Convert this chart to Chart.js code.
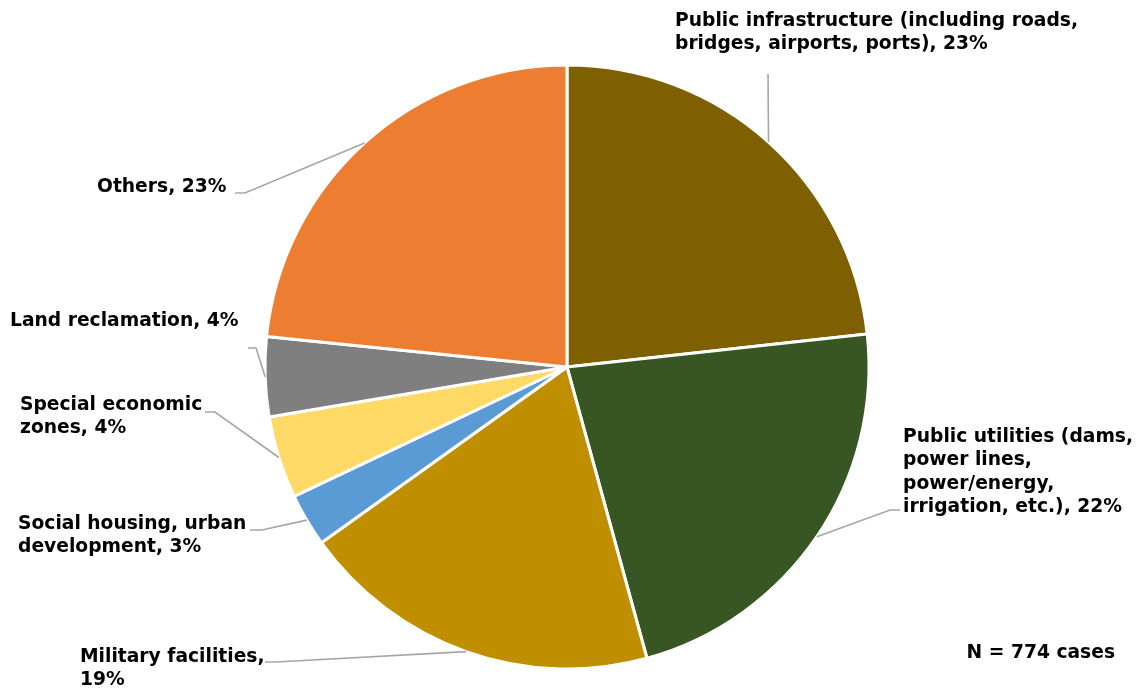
<!DOCTYPE html>
<html>
<head>
<meta charset="utf-8">
<script src="https://cdn.jsdelivr.net/npm/chart.js@4"></script>
<style>
  html, body { margin: 0; padding: 0; background: #ffffff; }
  #wrap { width: 1138px; height: 690px; }
</style>
</head>
<body>
<div id="wrap"><canvas id="chart" width="1138" height="690"></canvas></div>
<script>
// Project types, clockwise from 12 o'clock
const categories = [
  'Public infrastructure (including roads, bridges, airports, ports)',
  'Public utilities (dams, power lines, power/energy, irrigation, etc.)',
  'Military facilities',
  'Social housing, urban development',
  'Special economic zones',
  'Land reclamation',
  'Others'
];

// Number of cases per project type (total N = 774)
const caseCounts = [180, 174, 150, 22, 34, 33, 181];

const sliceColors = ['#7F6000', '#375623', '#BF8F00', '#5B9BD5', '#FFD966', '#7F7F7F', '#ED7D31'];

const LABEL_FONT = 'bold 18.7px "DejaVu Sans", Verdana, sans-serif';
const LINE_HEIGHT = 23.5;
const TEXT_COLOR = '#000000';
const LEADER_COLOR = '#a6a6a6';

// Placement of each callout: text origin, wrap width, leader elbow and leader end
const labelLayout = [
  { x: 675, y: 21,  wrap: 420, elbow: [768, 74],  end: [768, 74] },
  { x: 903, y: 437, wrap: 242, elbow: [890, 510], end: [900, 510] },
  { x: 80,  y: 657, wrap: 192, elbow: [276, 662], end: [265, 662] },
  { x: 18,  y: 524, wrap: 238, elbow: [262, 530], end: [250, 530] },
  { x: 20,  y: 405, wrap: 192, elbow: [215, 412], end: [205, 412] },
  { x: 10,  y: 321, wrap: 270, elbow: [256, 348], end: [248, 348] },
  { x: 97,  y: 187, wrap: 200, elbow: [245, 193], end: [235, 193] }
];

function wrapText(ctx, text, maxWidth) {
  const words = text.split(' ');
  const lines = [];
  let line = '';
  words.forEach(w => {
    const test = line ? line + ' ' + w : w;
    if (line && ctx.measureText(test).width > maxWidth) {
      lines.push(line);
      line = w;
    } else {
      line = test;
    }
  });
  if (line) lines.push(line);
  return lines;
}

// Draws outside labels with leader lines, plus the case count note
const calloutPlugin = {
  id: 'callouts',
  afterDatasetsDraw(chart) {
    const ctx = chart.ctx;
    const meta = chart.getDatasetMeta(0);
    const total = caseCounts.reduce((a, b) => a + b, 0);
    ctx.save();
    ctx.font = LABEL_FONT;
    ctx.textBaseline = 'middle';
    ctx.fillStyle = TEXT_COLOR;
    meta.data.forEach((arc, i) => {
      const p = arc.getProps(['x', 'y', 'startAngle', 'endAngle', 'outerRadius'], true);
      const mid = (p.startAngle + p.endAngle) / 2;
      const ex = p.x + Math.cos(mid) * p.outerRadius;
      const ey = p.y + Math.sin(mid) * p.outerRadius;
      const lay = labelLayout[i];

      ctx.strokeStyle = LEADER_COLOR;
      ctx.lineWidth = 1.6;
      ctx.beginPath();
      ctx.moveTo(ex, ey);
      ctx.lineTo(lay.elbow[0], lay.elbow[1]);
      ctx.lineTo(lay.end[0], lay.end[1]);
      ctx.stroke();

      const pct = Math.round(caseCounts[i] / total * 100);
      const lines = wrapText(ctx, categories[i] + ', ' + pct + '%', lay.wrap);
      ctx.textAlign = 'left';
      lines.forEach((ln, k) => ctx.fillText(ln, lay.x, lay.y + k * LINE_HEIGHT));
    });

    ctx.textAlign = 'right';
    ctx.fillText('N = ' + total + ' cases', 1115, 653);
    ctx.restore();
  }
};

new Chart(document.getElementById('chart'), {
  type: 'pie',
  data: {
    labels: categories,
    datasets: [{
      data: caseCounts,
      backgroundColor: sliceColors,
      borderColor: '#ffffff',
      borderWidth: 3,
      radius: 302
    }]
  },
  options: {
    responsive: false,
    animation: false,
    layout: { padding: { left: 200, right: 204, top: 44, bottom: 0 } },
    plugins: {
      legend: { display: false },
      tooltip: { enabled: false }
    }
  },
  plugins: [calloutPlugin]
});
</script>
</body>
</html>
